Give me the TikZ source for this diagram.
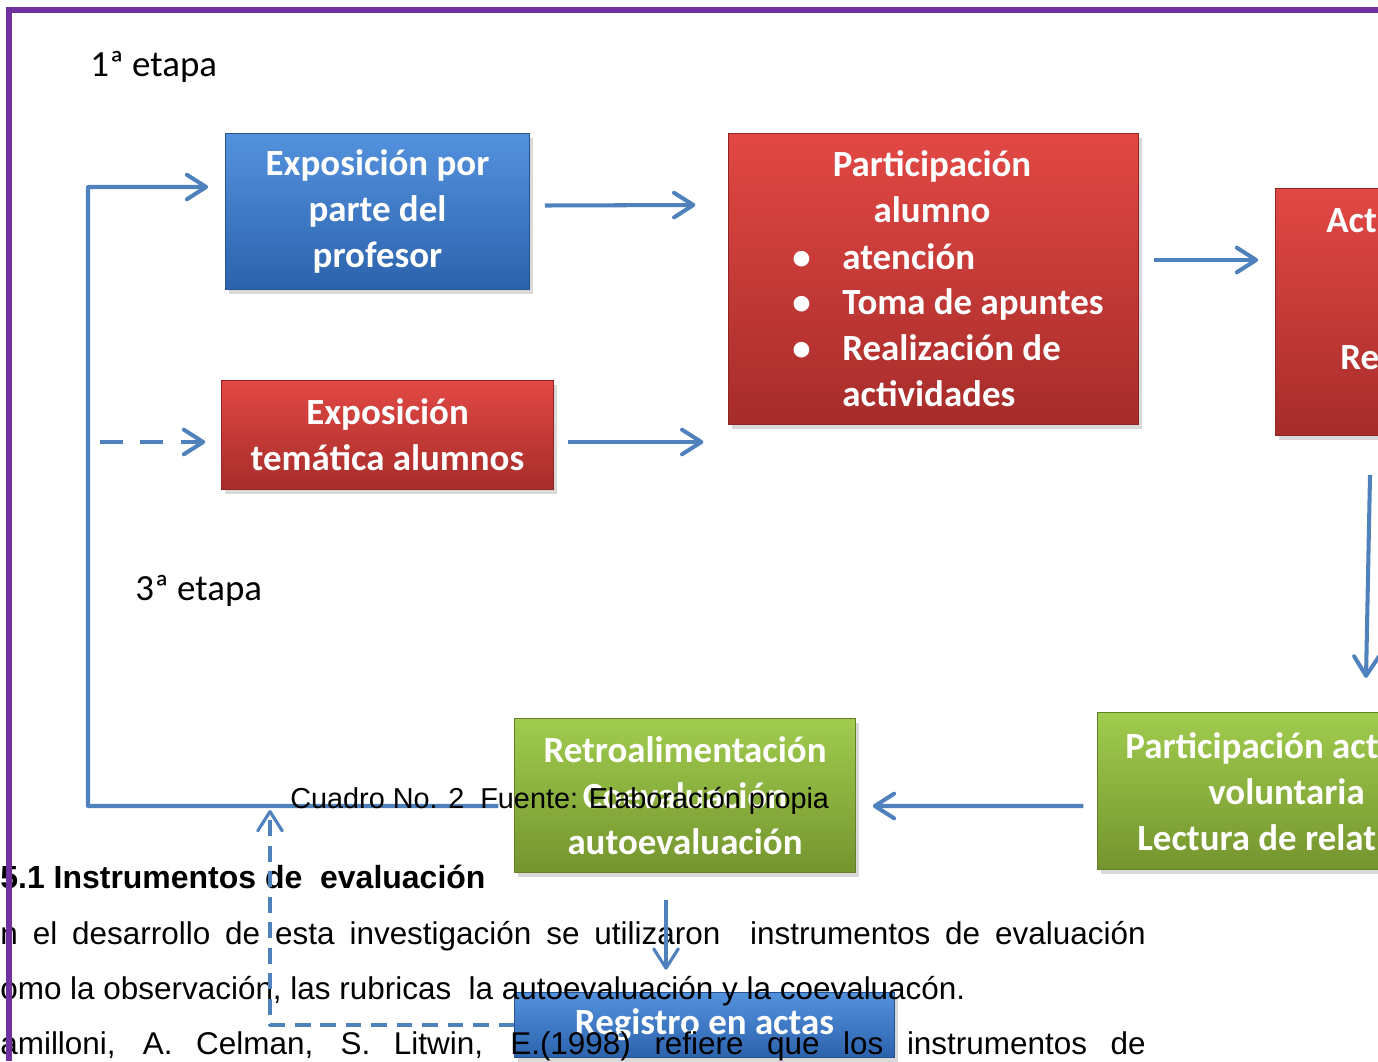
\documentclass[tikz,border=0pt]{standalone}
\usepackage{fontspec}
\setmainfont{Liberation Sans}
\newfontfamily\calib{Carlito}
\usetikzlibrary{arrows.meta,shadows}
\definecolor{flowblue}{RGB}{79,129,189}
\definecolor{framepurple}{RGB}{112,48,160}
\definecolor{bluetop}{RGB}{84,146,222}
\definecolor{bluebot}{RGB}{44,98,172}
\definecolor{redtop}{RGB}{226,72,68}
\definecolor{redbot}{RGB}{166,44,42}
\definecolor{greentop}{RGB}{160,204,78}
\definecolor{greenbot}{RGB}{116,148,46}
\newcommand\boxfont{\calib\bfseries\fontsize{21}{26}\selectfont}

\begin{document}
\begin{tikzpicture}[x=0.02cm, y=-0.02cm,
    box/.style={rectangle, inner sep=0pt, draw=#1bot!85!black, line width=0.5pt,
      top color=#1top, bottom color=#1bot,
      drop shadow={opacity=0.3, shadow xshift=2pt, shadow yshift=-2.5pt},
      text=white, align=center, font=\boxfont},
    boxsize/.style 2 args={minimum width=#1*0.5669pt, minimum height=#2*0.5669pt},
    boxtext/.style={inner sep=0pt, text=white, align=center, font=\boxfont},
    fragtext/.style={anchor=base west, inner sep=0pt, text=white, font=\boxfont},
    stage/.style={anchor=base west, inner sep=0pt, font=\calib\fontsize{21}{26}\selectfont},
    bodytext/.style={anchor=base west, inner sep=0pt, font=\fontsize{17.9}{21}\selectfont},
    flow/.style={draw=flowblue, line width=2.3pt, line join=round,
      -{Straight Barb[length=11pt, width=14pt, round]}},
    thinflow/.style={flow, line width=1.8pt},
    dashflow/.style={flow, dash pattern=on 13pt off 10pt},
    thindash/.style={thinflow, dash pattern=on 9pt off 5.5pt}]
	\useasboundingbox (0,0) rectangle (1378,1061);
	\clip (0,0) rectangle (1378,1061);

	\node[box=blue, boxsize={305}{157}] (expo) at (377.5,211.5) {Exposición por\\parte del\\profesor};
	\node[box=red, boxsize={333}{110}] (tema) at (387.5,435) {Exposición\\temática alumnos};
	\node[box=red, boxsize={411}{292}] (part) at (933.5,279) {};
	\node[boxtext] (parttitle) at (932,187) {Participación\\alumno};
	\node[boxtext, anchor=west, align=left] (partlist) at (792,325)
		{\makebox[28.5pt][l]{\textbullet}atención\\
		 \makebox[28.5pt][l]{\textbullet}Toma de apuntes\\
		 \makebox[28.5pt][l]{\textbullet}Realización de\\
		 \hspace*{28.5pt}actividades};
	\node[box=red, boxsize={300}{248}] (act) at (1425,312) {};
	\node[fragtext] (acttop) at (1326,232) {Act};
	\node[fragtext] (actbot) at (1340,369) {Re};
	\node[box=green, boxsize={380}{158}] (partic) at (1287,791) {};
	\node[fragtext] (partica) at (1125,758) {Participación act};
	\node[fragtext] (particb) at (1208,804) {voluntaria};
	\node[fragtext] (particc) at (1137,850) {Lectura de relat};
	\node[box=green, boxsize={342}{155}] (retro) at (685,795.5) {Retroalimentación\\Coevaluación\\autoevaluación};
	\node[box=blue, boxsize={381}{66}] (reg) at (704.5,1025) {\raisebox{-1.8pt}{Registro en actas}};

	\coordinate (lpbot) at (88,806);
	\coordinate (lptop) at (88,187);
	\coordinate (dashstart) at (100,442);
	\coordinate (dlcorner) at (270,1025);
	\coordinate (dlend) at (270,810);

	\draw[flow] ([shift={(15,-6)}]expo.east) -- ([shift={(-33,-74)}]part.west);
	\draw[flow] ([shift={(14,7)}]tema.east) -- ([shift={(-25,163)}]part.west);
	\draw[flow] ([shift={(15,-19)}]part.east) -- ([shift={(-17,-52)}]act.west);
	\draw[flow] ([shift={(-55,39)}]act.south) -- ([shift={(79,-34)}]partic.north);
	\draw[flow] ([shift={(-14,15)}]partic.west) -- ([shift={(17,10.5)}]retro.east);
	\draw[flow] ([shift={(-16,10.5)}]retro.west) -- (lpbot) -- (lptop) -- ([shift={(-17,-24.5)}]expo.west);
	\draw[dashflow] (dashstart) -- ([shift={(-16,7)}]tema.west);

	\node[stage] (etapa1) at (90,76) {1ª etapa};
	\node[stage] (etapa3) at (135,600) {3ª etapa};
	\node[bodytext, font=\fontsize{16.4}{20}\selectfont] (caption) at (290,808) {Cuadro No. 2\ \ Fuente: Elaboración propia};
	\node[bodytext, font=\bfseries\fontsize{18.2}{21}\selectfont] (heading) at (0,888) {5.1 Instrumentos de\ \ evaluación};
	\node[bodytext] (linea) at (0,944) {\makebox[651.9pt][s]{n el desarrollo de esta investigación se utilizaron\ \ instrumentos de evaluación}};
	\node[bodytext] (lineb) at (0,999) {omo la observación, las rubricas\ \ la autoevaluación y la coevaluacón.};
	\node[bodytext] (linec) at (0,1054) {\makebox[651.9pt][s]{amilloni, A. Celman, S. Litwin, E.(1998) refiere que los instrumentos de}};

	\draw[thinflow] ([shift={(-19,27)}]retro.south) -- ([shift={(-38.5,-22)}]reg.north);
	\draw[thindash] (reg.west) -- (dlcorner) -- (dlend);

	\draw[framepurple, line width=3pt] (9,1061) -- (9,10) -- (1378,10);
\end{tikzpicture}
\end{document}
